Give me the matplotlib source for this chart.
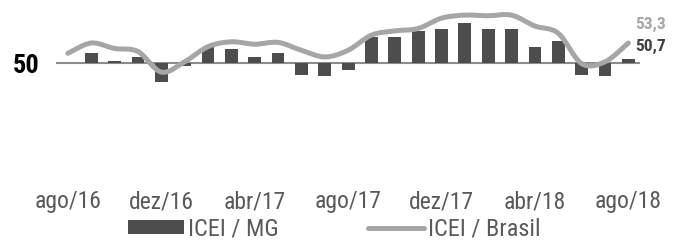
import numpy as np
import matplotlib
matplotlib.use("Agg")
import matplotlib.pyplot as plt
from matplotlib.path import Path
from matplotlib.patches import PathPatch, Patch
from matplotlib.lines import Line2D

plt.rcParams['font.family'] = ['Roboto Condensed', 'Asap Condensed', 'Archivo Narrow',
                               'Liberation Sans', 'DejaVu Sans']

# monthly index, ago/16 .. ago/18
months = ['ago/16', 'set/16', 'out/16', 'nov/16', 'dez/16', 'jan/17', 'fev/17', 'mar/17',
          'abr/17', 'mai/17', 'jun/17', 'jul/17', 'ago/17', 'set/17', 'out/17', 'nov/17',
          'dez/17', 'jan/18', 'fev/18', 'mar/18', 'abr/18', 'mai/18', 'jun/18', 'jul/18',
          'ago/18']
icei_mg = [50.0, 51.7, 50.3, 51.0, 46.8, 49.5, 52.6, 52.3, 51.0, 51.7, 48.1, 47.8, 48.8,
           54.3, 54.3, 55.2, 55.6, 56.6, 55.6, 55.6, 52.6, 53.6, 48.1, 47.8, 50.7]
icei_br = [51.6, 53.3, 52.4, 51.9, 48.5, 50.2, 52.7, 53.5, 53.1, 53.4, 52.1, 51.0, 52.1,
           54.6, 55.3, 55.7, 57.4, 57.9, 57.8, 57.9, 56.1, 54.9, 49.9, 50.2, 53.3]
tick_every = 4

BASE = 50
BAR_C = '#4d4d4d'
LINE_C = '#a6a6a6'
TXT_C = '#595959'

fig = plt.figure(figsize=(6.73, 2.42), dpi=100)
ax = fig.add_axes([0.0835, 0.239, 0.8675, 0.751])

x = np.arange(len(months))
mg = np.array(icei_mg)
br = np.array(icei_br)

ax.bar(x, mg - BASE, bottom=BASE, width=0.55, color=BAR_C, zorder=2)
ax.axhline(BASE, color='#8c8c8c', lw=1.5, zorder=1)

# smoothed line: bezier segments through the points
pts = np.column_stack([x, br]).astype(float)
verts = [pts[0]]
codes = [Path.MOVETO]
for i in range(len(pts) - 1):
    p0 = pts[max(i - 1, 0)]
    p1 = pts[i]
    p2 = pts[i + 1]
    p3 = pts[min(i + 2, len(pts) - 1)]
    verts += [p1 + (p2 - p0) / 6.0, p2 - (p3 - p1) / 6.0, p2]
    codes += [Path.CURVE4] * 3
ax.add_patch(PathPatch(Path(verts, codes), facecolor='none', edgecolor=LINE_C,
                       lw=3.6, capstyle='round', joinstyle='round', zorder=3))

# end labels
ax.annotate(f'{br[-1]:.1f}'.replace('.', ','), (x[-1], br[-1]), xytext=(5, 13),
            textcoords='offset points', color=LINE_C, fontsize=12.5, fontweight='bold',
            va='center', ha='left')
ax.annotate(f'{mg[-1]:.1f}'.replace('.', ','), (x[-1], mg[-1]), xytext=(5, 9),
            textcoords='offset points', color='#404040', fontsize=12.5, fontweight='bold',
            va='center', ha='left')

ax.set_xlim(-0.5, len(months) - 0.5)
ax.set_ylim(30, 60)
ax.set_xticks(x[::tick_every])
ax.set_xticklabels(months[::tick_every], fontsize=17, color=TXT_C)
ax.set_yticks([BASE])
ax.set_yticklabels(['50'], fontsize=19, fontweight='bold', color='black')
ax.tick_params(axis='both', length=0)
ax.tick_params(axis='x', pad=4.5)
ax.tick_params(axis='y', pad=12)
for s in ax.spines.values():
    s.set_visible(False)

handles = [Patch(facecolor=BAR_C, edgecolor='none'),
           Line2D([0], [0], color=LINE_C, lw=3.6, solid_capstyle='round')]
fig.legend(handles, ['ICEI / MG', 'ICEI / Brasil'], loc='lower center', ncol=2,
           bbox_to_anchor=(0.497, -0.085), frameon=False, fontsize=17.5, handlelength=2.3,
           handleheight=0.5, handletextpad=0.15, columnspacing=3.7, labelcolor=TXT_C)

fig.savefig('out.png', dpi=100)
